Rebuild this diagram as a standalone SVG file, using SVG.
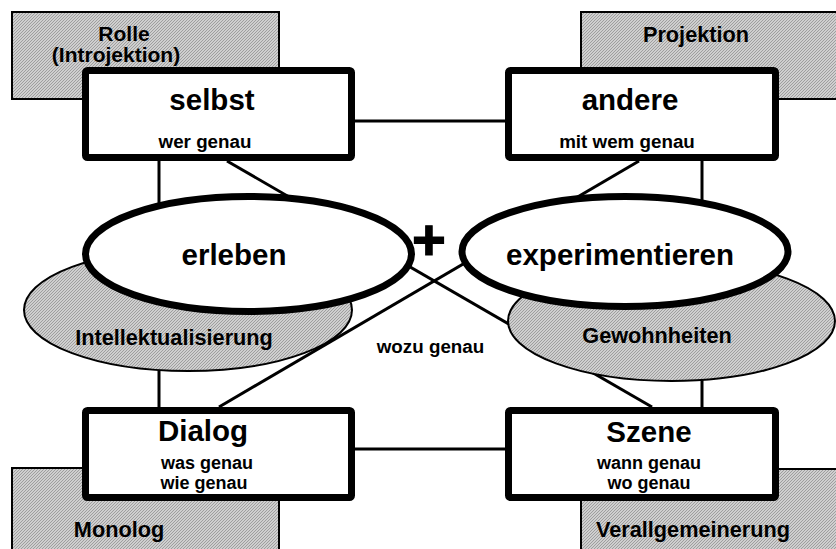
<svg xmlns="http://www.w3.org/2000/svg" width="836" height="549" viewBox="0 0 836 549">
<defs>
<pattern id="hatch" width="3" height="3" patternUnits="userSpaceOnUse">
<rect width="3" height="3" fill="#cfcfcf"/>
<path d="M0,3 L3,0" stroke="#9e9e9e" stroke-width="1"/>
</pattern>
</defs>
<style>
.grey{fill:url(#hatch);stroke:#000;stroke-width:2}
.box{fill:#fff;stroke:#000;stroke-width:7}
.oval{fill:#fff;stroke:#000;stroke-width:7}
.goval{fill:url(#hatch);stroke:#000;stroke-width:2}
.conn{stroke:#000;stroke-width:3;fill:none}
text{font-family:"Liberation Sans",Arial,Helvetica,sans-serif;font-weight:bold;fill:#000;text-anchor:middle}
.big{font-size:29.5px}
.small{font-size:18.8px}
.stack{font-size:18px}
.glab{font-size:21.7px}
.glab2{font-size:21px}
</style>
<rect width="836" height="549" fill="#fff"/>
<g id="rolle">
<rect class="grey" x="12" y="12" width="267" height="87"/>
<text class="glab2" x="124" y="40.5">Rolle</text>
<text class="glab2" x="116" y="62">(Introjektion)</text>
</g>
<g id="projektion">
<rect class="grey" x="581" y="12" width="270" height="87"/>
<text class="glab" x="696" y="42">Projektion</text>
</g>
<g id="monolog">
<rect class="grey" x="12" y="468" width="267" height="100"/>
<text class="glab" x="119" y="537">Monolog</text>
</g>
<g id="verallgemeinerung">
<rect class="grey" x="581" y="469" width="270" height="100"/>
<text class="glab" x="693" y="537">Verallgemeinerung</text>
</g>
<g id="connectors">
<line class="conn" x1="355" y1="121" x2="505" y2="121"/>
<line class="conn" x1="355" y1="449" x2="505" y2="449"/>
<line class="conn" x1="159" y1="161" x2="159" y2="407"/>
<line class="conn" x1="702" y1="161" x2="702" y2="407"/>
<line class="conn" x1="227" y1="161" x2="652" y2="407"/>
<line class="conn" x1="639" y1="161" x2="219" y2="407"/>
</g>
<g id="intellektualisierung">
<ellipse class="goval" cx="188" cy="310" rx="164" ry="61"/>
<text class="glab" x="174" y="345">Intellektualisierung</text>
</g>
<g id="gewohnheiten">
<ellipse class="goval" cx="671.5" cy="321" rx="163.5" ry="60"/>
<text class="glab" x="657" y="343">Gewohnheiten</text>
</g>
<g id="erleben">
<ellipse class="oval" cx="248.5" cy="254" rx="163" ry="57.5"/>
<text class="big" x="234" y="265">erleben</text>
</g>
<g id="experimentieren">
<ellipse class="oval" cx="625" cy="251.5" rx="163" ry="55"/>
<text class="big" x="620" y="265">experimentieren</text>
</g>
<g id="plus">
<text x="429" y="260" style="font-size:58px;stroke:#000;stroke-width:1.2">+</text>
</g>
<g id="wozu">
<text class="small" x="430.5" y="353">wozu genau</text>
</g>
<g id="selbst">
<rect class="box" x="85.5" y="70.5" width="266" height="87" rx="2"/>
<text class="big" x="212" y="110">selbst</text>
<text class="small" x="205" y="148">wer genau</text>
</g>
<g id="andere">
<rect class="box" x="508.5" y="70.5" width="267" height="87" rx="2"/>
<text class="big" x="630" y="110">andere</text>
<text class="small" x="627" y="148">mit wem genau</text>
</g>
<g id="dialog">
<rect class="box" x="85.5" y="410.5" width="266" height="87" rx="2"/>
<text class="big" x="203" y="441">Dialog</text>
<text class="stack" x="207" y="469">was genau</text>
<text class="stack" x="204" y="489">wie genau</text>
</g>
<g id="szene">
<rect class="box" x="508.5" y="410.5" width="267" height="87" rx="2"/>
<text class="big" x="649" y="442">Szene</text>
<text class="stack" x="649" y="469">wann genau</text>
<text class="stack" x="649" y="489">wo genau</text>
</g>
</svg>
